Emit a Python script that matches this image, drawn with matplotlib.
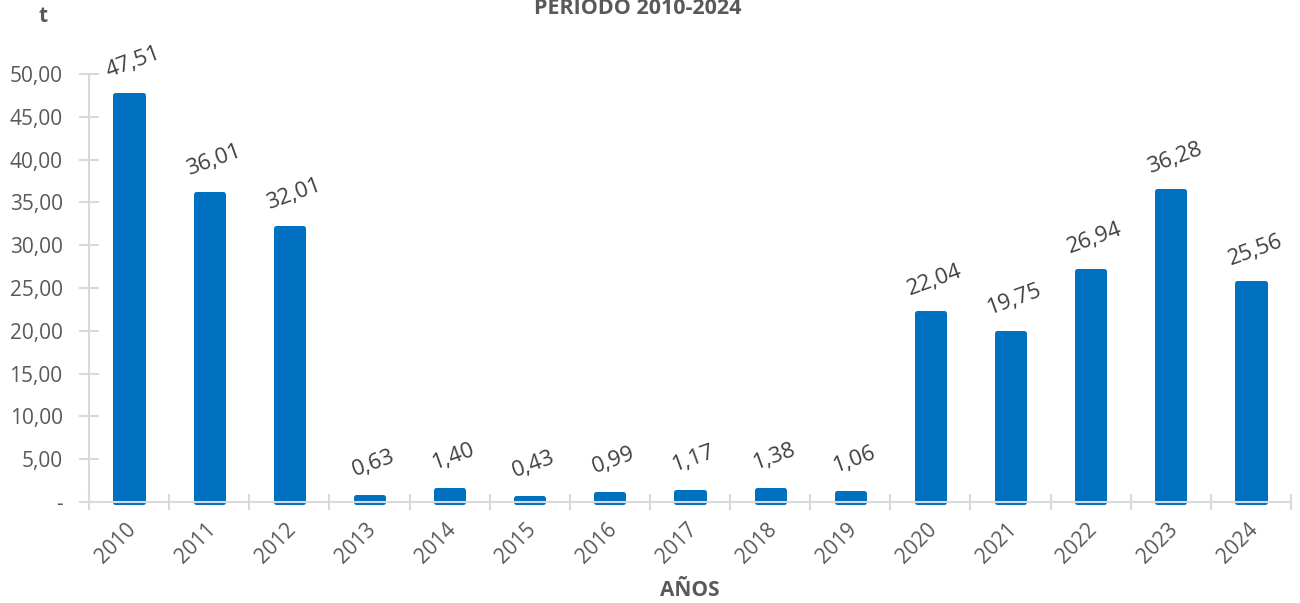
import numpy as np
import matplotlib.pyplot as plt
from matplotlib.ticker import FuncFormatter

# Data
years = ['2010', '2011', '2012', '2013', '2014', '2015', '2016', '2017',
         '2018', '2019', '2020', '2021', '2022', '2023', '2024']
values = [47.51, 36.01, 32.01, 0.63, 1.40, 0.43, 0.99, 1.17,
          1.38, 1.06, 22.04, 19.75, 26.94, 36.28, 25.56]

plt.rcParams['font.family'] = ['Open Sans', 'DejaVu Sans']

blue = '#0070C0'
gray_txt = '#595959'
axis_gray = '#D9D9D9'

fig = plt.figure(figsize=(13, 6.03), dpi=100)
ax = fig.add_axes([89 / 1300, 101 / 603, 1202 / 1300, 428 / 603])

x = np.arange(len(years))
bars = ax.bar(x, values, width=0.34, color=blue, edgecolor=blue,
              linewidth=3.6, joinstyle='round', clip_on=False, zorder=1)

# data labels, slightly rotated
for xi, v in zip(x, values):
    ax.annotate(f'{v:.2f}'.replace('.', ','), (xi, v), xytext=(3, 24),
                textcoords='offset points', ha='center', va='center',
                rotation=20, fontsize=16, color='#404040', annotation_clip=False)

ax.set_xlim(-0.5, len(years) - 0.5)
ax.set_ylim(0, 50)
ax.set_yticks(np.arange(0, 51, 5))
ax.yaxis.set_major_formatter(FuncFormatter(
    lambda v, p: '-' if v == 0 else f'{v:.2f}'.replace('.', ',')))

ax.set_xticks(x)
ax.set_xticklabels(years, rotation=45, ha='right', rotation_mode='anchor')
ax.set_xticks(np.arange(-0.5, len(years)), minor=True)
ax.tick_params(axis='x', which='major', length=0, pad=12,
               labelsize=15, labelcolor=gray_txt)
ax.tick_params(axis='x', which='minor', length=11, width=1.5,
               direction='inout', color=axis_gray)
ax.tick_params(axis='y', length=14, width=1.5, direction='inout',
               color=axis_gray, labelsize=15, labelcolor=gray_txt, pad=12)
for lbl in ax.get_xticklabels():
    lbl.set_x(lbl.get_position()[0])
# nudge tick labels a little to the left, as in the reference
from matplotlib.transforms import ScaledTranslation
shift = ScaledTranslation(-4 / 100, 0, fig.dpi_scale_trans)
for lbl in ax.get_xticklabels():
    lbl.set_transform(lbl.get_transform() + shift)

for s in ['top', 'right']:
    ax.spines[s].set_visible(False)
for s in ['left', 'bottom']:
    ax.spines[s].set_color(axis_gray)
    ax.spines[s].set_linewidth(1.5)
    ax.spines[s].set_zorder(3)

fig.text(638 / 1300, 1 - 8 / 603, 'PERIODO 2010-2024', ha='center', va='center',
         fontsize=15.5, fontweight='bold', color=gray_txt)
fig.text(43 / 1300, 1 - 17 / 603, 't', ha='center', va='center',
         fontsize=15, fontweight='bold', color=gray_txt)
fig.text(690 / 1300, 1 - 590 / 603, 'AÑOS', ha='center', va='center',
         fontsize=15, fontweight='bold', color=gray_txt)

fig.savefig('out.png', dpi=100, facecolor='white')
